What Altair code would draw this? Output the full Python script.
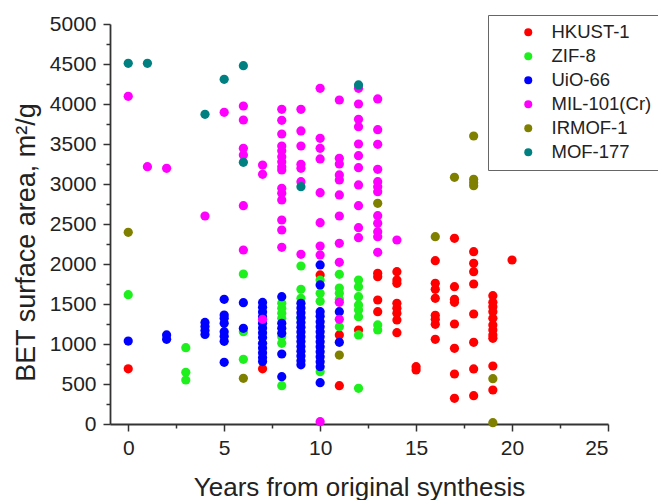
import altair as alt
import pandas as pd

series_names = ["HKUST-1", "ZIF-8", "UiO-66", "MIL-101(Cr)", "IRMOF-1", "MOF-177"]
series_colors = ["#ff0000", "#1ef01e", "#0000ff", "#ff00ff", "#808000", "#008080"]

hkust_1 = [(0, 690), (7, 690), (10, 1863), (11, 1113), (11, 479), (12, 1175),
           (13, 1883), (13, 1842), (13, 1550), (13, 1404),
           (14, 1904), (14, 1800), (14, 1758), (14, 1508), (14, 1446), (14, 1383), (14, 1300), (14, 1142),
           (15, 717), (15, 675),
           (16, 2042), (16, 1758), (16, 1683), (16, 1571), (16, 1358), (16, 1308), (16, 1246), (16, 1058),
           (17, 2321), (17, 1717), (17, 1558), (17, 1521), (17, 1250), (17, 946), (17, 625), (17, 321),
           (18, 2154), (18, 2008), (18, 1904), (18, 1750), (18, 1375), (18, 1021), (18, 688), (18, 354),
           (19, 1604), (19, 1521), (19, 1467), (19, 1404), (19, 1321), (19, 1238), (19, 1175), (19, 1113),
           (19, 1071), (19, 725), (19, 425),
           (20, 2050)]

zif_8 = [(0, 1617), (3, 954), (3, 646), (3, 550), (6, 1875), (6, 1154), (6, 808),
         (8, 1508), (8, 1446), (8, 1383), (8, 1321), (8, 1092), (8, 1008), (8, 479),
         (9, 1975), (9, 1683), (9, 1571), (9, 1321),
         (10, 1800), (10, 1633), (10, 1533), (10, 654),
         (11, 1871), (11, 1700), (11, 1633), (11, 1560), (11, 1217),
         (12, 1800), (12, 1717), (12, 1592), (12, 1488), (12, 1425), (12, 1342), (12, 1113), (12, 446),
         (13, 1238), (13, 1175)]

uio_66 = [(0, 1037), (2, 1113), (2, 1058), (4, 1270), (4, 1220), (4, 1170), (4, 1120),
          (5, 1558), (5, 1362), (5, 1321), (5, 1258), (5, 1154), (5, 1096), (5, 1033), (5, 771),
          (6, 1517), (6, 1196),
          (7, 1520), (7, 1460), (7, 1400), (7, 1340), (7, 1260), (7, 1200), (7, 1140), (7, 1080),
          (7, 1010), (7, 950), (7, 890), (7, 830), (7, 780),
          (8, 1592), (8, 1258), (8, 1196), (8, 1133), (8, 875), (8, 592),
          (9, 1508), (9, 1450), (9, 1390), (9, 1330), (9, 1270), (9, 1210), (9, 1150), (9, 1090),
          (9, 1030), (9, 970), (9, 910), (9, 850), (9, 790), (9, 740),
          (10, 1988), (10, 1738), (10, 1404), (10, 1346), (10, 1279), (10, 1217), (10, 1154), (10, 1092),
          (10, 1029), (10, 967), (10, 904), (10, 842), (10, 779), (10, 717), (10, 517),
          (11, 1404), (11, 1021)]

mil_101 = [(0, 4096), (1, 3216), (2, 3196), (4, 2600), (5, 3896),
           (6, 3975), (6, 3800), (6, 3446), (6, 3362), (6, 2729), (6, 2175),
           (7, 3237), (7, 3121), (7, 1308),
           (8, 3933), (8, 3796), (8, 3625), (8, 3475), (8, 3417), (8, 3342), (8, 3279), (8, 3217),
           (8, 3175), (8, 2946), (8, 2883), (8, 2800), (8, 2550), (8, 2425), (8, 2208),
           (9, 3933), (9, 3663), (9, 3475), (9, 3246), (9, 3196), (9, 3029), (9, 2121),
           (10, 4196), (10, 3571), (10, 3446), (10, 3313), (10, 2892), (10, 2517), (10, 2225), (10, 2113), (10, 29),
           (11, 4050), (11, 3321), (11, 3250), (11, 3113), (11, 3050), (11, 2863), (11, 2600), (11, 2258),
           (11, 2021), (11, 1521), (11, 1308),
           (12, 4196), (12, 4000), (12, 3808), (12, 3717), (12, 3500), (12, 3354), (12, 3204), (12, 2988),
           (12, 2729), (12, 2454), (12, 2329),
           (13, 4063), (13, 3679), (13, 3496), (13, 3183), (13, 3029), (13, 2967), (13, 2904), (13, 2604),
           (13, 2508), (13, 2404), (13, 2342), (13, 2146),
           (14, 2300)]

irmof_1 = [(0, 2396), (6, 571), (11, 862), (13, 2758), (16, 2342), (17, 3083),
           (18, 3600), (18, 3058), (18, 3017), (18, 2979), (19, 567), (19, 16)]

mof_177 = [(0, 4509), (1, 4509), (4, 3871), (5, 4308), (6, 4479), (6, 3271), (9, 2967), (12, 4238)]

x_tick_values = [0, 2.5, 5, 7.5, 10, 12.5, 15, 17.5, 20, 22.5, 25]
y_tick_values = list(range(0, 5001, 250))

rows = []
for name, pts in zip(series_names, [hkust_1, zif_8, uio_66, mil_101, irmof_1, mof_177]):
    for yr, val in pts:
        rows.append({"year": yr, "bet": val, "material": name})
df = pd.DataFrame(rows)
df["order"] = range(len(df))

FONT = "Liberation Sans"

chart = alt.Chart(df).mark_circle(size=85, opacity=1).encode(
    x=alt.X("year:Q",
            scale=alt.Scale(domain=[-0.95, 25], nice=False, zero=False),
            axis=alt.Axis(values=x_tick_values,
                          labelExpr="datum.value % 5 == 0 ? datum.label : ''",
                          tickSize={"condition": {"test": "datum.value % 5 === 0", "value": 7}, "value": 4},
                          title="Years from original synthesis",
                          titleY=71, titleBaseline="alphabetic",
                          labelPadding=6, grid=False)),
    y=alt.Y("bet:Q",
            scale=alt.Scale(domain=[0, 5000], nice=False),
            axis=alt.Axis(values=y_tick_values,
                          labelExpr="datum.value % 500 == 0 ? datum.label : ''",
                          format="d",
                          tickSize={"condition": {"test": "datum.value % 500 === 0", "value": 7}, "value": 4},
                          title="BET surface area, m²/g",
                          titleX=-76, titleY=218, titleBaseline="alphabetic",
                          labelPadding=7, grid=False)),
    color=alt.Color("material:N",
                    scale=alt.Scale(domain=series_names, range=series_colors),
                    legend=alt.Legend(title=None, orient="none", legendX=378, legendY=-9)),
    order=alt.Order("order:Q"),
).properties(
    width=498, height=400,
    background="white",
    autosize=alt.AutoSizeParams(type="none"),
    padding={"left": 110, "top": 24, "right": 50, "bottom": 76},
).configure_view(
    stroke=None
).configure_axis(
    labelFont=FONT, titleFont=FONT, labelFontSize=21, titleFontSize=26,
    titleFontWeight="normal", labelColor="#222", titleColor="#222",
    domainColor="#333", domainWidth=1.8, tickColor="#333", tickWidth=1.5,
).configure_axisY(
    titleFontSize=27
).configure_legend(
    labelFont=FONT, labelFontSize=18.5, labelColor="#222",
    symbolType="circle", symbolSize=64, symbolStrokeWidth=0,
    strokeColor="#666", strokeWidth=1, fillColor="white",
    padding=8, symbolOffset=23, labelOffset=14, rowPadding=5,
)

chart.save("out.html", embed_options={"renderer": "svg", "actions": False})
